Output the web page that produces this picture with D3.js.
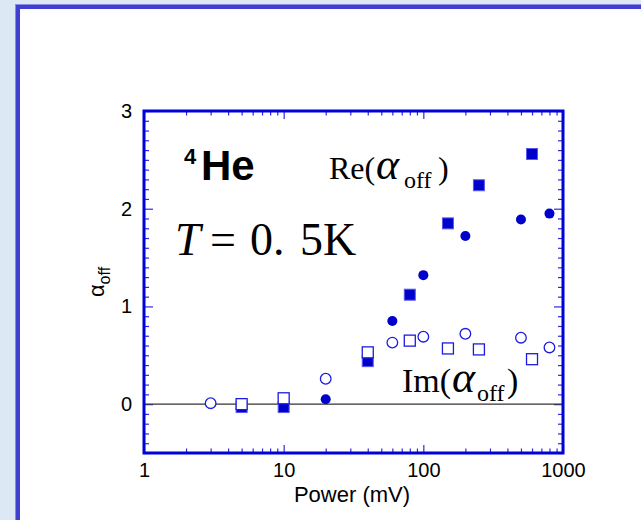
<!DOCTYPE html>
<html>
<head>
<meta charset="utf-8">
<script src="https://cdn.jsdelivr.net/npm/d3@7/dist/d3.min.js"></script>
<style>
  html, body { margin: 0; padding: 0; background: #ffffff; }
  svg { display: block; }
</style>
</head>
<body>
<svg id="chart" width="641" height="520"></svg>
<script>
// Two measurement runs: circles and squares; filled = Re(α_off), open = Im(α_off)
const circlePower = [3, 20, 60, 100, 200, 500, 800];
const circleRe    = [0.00, 0.05, 0.85, 1.32, 1.72, 1.89, 1.95];
const circleIm    = [0.01, 0.26, 0.63, 0.69, 0.72, 0.68, 0.58];

const squarePower = [5, 10, 40, 80, 150, 250, 600];
const squareRe    = [-0.03, -0.03, 0.44, 1.12, 1.85, 2.24, 2.56];
const squareIm    = [0.00, 0.06, 0.53, 0.65, 0.57, 0.56, 0.46];

const xTickValues = [1, 10, 100, 1000];
const yTickValues = [0, 1, 2, 3];
const xDomain = [1, 1000];
const yDomain = [-0.5, 3];

const svg = d3.select("#chart");
const W = 641, H = 520;

// slide background with blue frame
svg.append("rect").attr("x", 0).attr("y", 0).attr("width", W).attr("height", H).attr("fill", "#dde8f5");
svg.append("rect").attr("x", 15).attr("y", 4).attr("width", W - 15).attr("height", H - 4).attr("fill", "#8a8ae6");
svg.append("rect").attr("x", 16).attr("y", 5).attr("width", W - 16).attr("height", H - 5).attr("fill", "#3f3fd2");
svg.append("rect").attr("x", 20).attr("y", 9).attr("width", W - 20).attr("height", H - 9).attr("fill", "#ffffff");

const plot = { left: 144, right: 563, top: 111, bottom: 453 };
const x = d3.scaleLog().domain(xDomain).range([plot.left, plot.right]);
const y = d3.scaleLinear().domain(yDomain).range([plot.bottom, plot.top]);

const axisBlue = "#0000d8";
const tickBlue = "#2a2ae0";
const sans = "'Liberation Sans', Arial, sans-serif";
const serif = "'Liberation Serif', 'Times New Roman', serif";

// minor tick positions
const xMinor = [];
for (let d = 1; d < 1000; d *= 10) for (let k = 2; k <= 9; k++) xMinor.push(d * k);
const yMinor = d3.range(-5, 31).map(i => i / 10).filter(v => Math.abs(v - Math.round(v)) > 1e-6);

function styleAxis(g) {
  g.select(".domain").remove();
  g.selectAll(".tick line").attr("stroke", tickBlue).attr("stroke-width", 1.2);
}

// bottom axis: labels + inward ticks
const gxb = svg.append("g").attr("transform", `translate(0,${plot.bottom})`)
  .call(d3.axisBottom(x).tickValues(xTickValues).tickSize(-8).tickPadding(10)
    .tickFormat(d3.format("d")));
styleAxis(gxb);
gxb.selectAll("text").attr("font-family", sans).attr("font-size", 20).attr("fill", "#000");
svg.append("g").attr("transform", `translate(0,${plot.bottom})`)
  .call(d3.axisBottom(x).tickValues(xMinor).tickSize(-4.5).tickFormat(""))
  .call(styleAxis);

// top axis: mirrored ticks
svg.append("g").attr("transform", `translate(0,${plot.top})`)
  .call(d3.axisTop(x).tickValues(xTickValues).tickSize(-8).tickFormat(""))
  .call(styleAxis);
svg.append("g").attr("transform", `translate(0,${plot.top})`)
  .call(d3.axisTop(x).tickValues(xMinor).tickSize(-4.5).tickFormat(""))
  .call(styleAxis);

// left axis
const gyl = svg.append("g").attr("transform", `translate(${plot.left},0)`)
  .call(d3.axisLeft(y).tickValues(yTickValues).tickSize(-9).tickPadding(12)
    .tickFormat(d3.format("d")));
styleAxis(gyl);
gyl.selectAll("text").attr("font-family", sans).attr("font-size", 20).attr("fill", "#000");
svg.append("g").attr("transform", `translate(${plot.left},0)`)
  .call(d3.axisLeft(y).tickValues(yMinor).tickSize(-5).tickFormat(""))
  .call(styleAxis);

// right axis
svg.append("g").attr("transform", `translate(${plot.right},0)`)
  .call(d3.axisRight(y).tickValues(yTickValues).tickSize(-9).tickFormat(""))
  .call(styleAxis);
svg.append("g").attr("transform", `translate(${plot.right},0)`)
  .call(d3.axisRight(y).tickValues(yMinor).tickSize(-5).tickFormat(""))
  .call(styleAxis);

// zero line
svg.append("line")
  .attr("x1", plot.left).attr("x2", plot.right)
  .attr("y1", y(0)).attr("y2", y(0))
  .attr("stroke", "#333").attr("stroke-width", 1.2);

// plot frame
svg.append("rect")
  .attr("x", plot.left).attr("y", plot.top)
  .attr("width", plot.right - plot.left).attr("height", plot.bottom - plot.top)
  .attr("fill", "none").attr("stroke", axisBlue).attr("stroke-width", 3);

// markers
const markerFill = "#0000cc";
const openStroke = "#1c1ce0";
const sq = 11, r = 5.3;

const squareReData = squarePower.map((p, i) => ({ p, v: squareRe[i] }));
const squareImData = squarePower.map((p, i) => ({ p, v: squareIm[i] }));
const circleReData = circlePower.map((p, i) => ({ p, v: circleRe[i] }));
const circleImData = circlePower.map((p, i) => ({ p, v: circleIm[i] }));

const marks = svg.append("g");
marks.selectAll("rect.re").data(squareReData).join("rect").attr("class", "re")
  .attr("x", d => x(d.p) - sq / 2).attr("y", d => y(d.v) - sq / 2)
  .attr("width", sq).attr("height", sq)
  .attr("fill", markerFill).attr("stroke", "#5a5aee").attr("stroke-width", 1);
marks.selectAll("circle.re").data(circleReData).join("circle").attr("class", "re")
  .attr("cx", d => x(d.p)).attr("cy", d => y(d.v)).attr("r", 5)
  .attr("fill", markerFill);
marks.selectAll("rect.im").data(squareImData).join("rect").attr("class", "im")
  .attr("x", d => x(d.p) - sq / 2).attr("y", d => y(d.v) - sq / 2)
  .attr("width", sq).attr("height", sq)
  .attr("fill", "#fff").attr("stroke", openStroke).attr("stroke-width", 1.3);
marks.selectAll("circle.im").data(circleImData).join("circle").attr("class", "im")
  .attr("cx", d => x(d.p)).attr("cy", d => y(d.v)).attr("r", r)
  .attr("fill", "#fff").attr("stroke", openStroke).attr("stroke-width", 1.3);

// axis titles
svg.append("text").attr("x", 352).attr("y", 502).attr("text-anchor", "middle")
  .attr("font-family", sans).attr("font-size", 22).text("Power (mV)");

const yl = svg.append("text")
  .attr("transform", "translate(104,282) rotate(-90)")
  .attr("text-anchor", "middle").attr("font-family", sans);
yl.append("tspan").attr("font-size", 22).text("α");
yl.append("tspan").attr("font-size", 16).attr("dy", 6).text("off");

// annotations
const ann = svg.append("g").attr("fill", "#000");
ann.append("text").attr("x", 184).attr("y", 164).attr("font-family", sans)
  .attr("font-weight", "bold").attr("font-size", 22).text("4");
ann.append("text").attr("x", 201).attr("y", 180).attr("font-family", sans)
  .attr("font-weight", "bold").attr("font-size", 42).text("He");

ann.append("text").attr("x", 175).attr("y", 255).attr("font-family", serif)
  .attr("font-style", "italic").attr("font-size", 46).text("T");
ann.append("text").attr("x", 210).attr("y", 255).attr("font-family", serif)
  .attr("font-size", 46).text("=");
ann.append("text").attr("x", 250).attr("y", 255).attr("font-family", serif)
  .attr("font-size", 46).text("0.");
ann.append("text").attr("x", 300).attr("y", 255).attr("font-family", serif)
  .attr("font-size", 46).text("5K");

function alphaLabel(prefix, size, x0, base, alphaX, subX, closeX) {
  ann.append("text").attr("x", x0).attr("y", base).attr("font-family", serif)
    .attr("font-size", size).text(prefix + "(");
  ann.append("text").attr("x", alphaX).attr("y", base).attr("font-family", serif)
    .attr("font-style", "italic").attr("font-size", 44).text("α");
  ann.append("text").attr("x", subX).attr("y", base + 9).attr("font-family", serif)
    .attr("font-size", 24).text("off");
  ann.append("text").attr("x", closeX).attr("y", base).attr("font-family", serif)
    .attr("font-size", size).text(")");
}
alphaLabel("Re", 32, 329, 179, 376, 404, 438);
alphaLabel("Im", 34, 402, 392, 452, 477, 507);
</script>
</body>
</html>
